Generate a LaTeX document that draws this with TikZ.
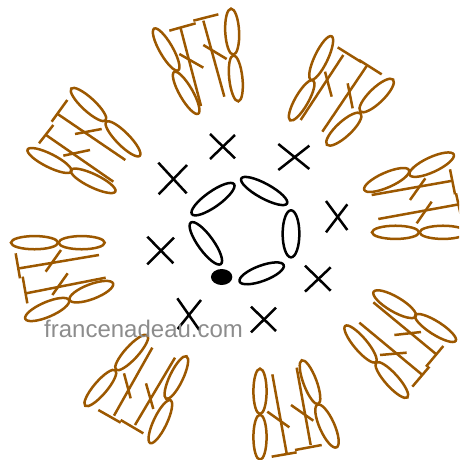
\documentclass[tikz,border=0pt]{standalone}
\usepackage{fontspec}
\setmainfont{Liberation Sans}
\definecolor{stitch}{RGB}{156,88,0}
\definecolor{wm}{RGB}{140,140,140}
\tikzset{
  brownline/.style={draw=stitch,line width=2.5pt},
  blackline/.style={draw=black,line width=2.5pt},
  watermark/.style={text=wm,font=\fontsize{24}{24}\selectfont,anchor=base west,inner sep=0pt}
}
\newcommand{\Orig}[2]{\def\ox{#1}\def\oy{#2}}
\def\wadj{0.3}
% line from zoom coordinates
\newcommand{\Ln}[5][brownline]{%
  \pgfmathsetmacro{\ax}{\ox+#2/3}\pgfmathsetmacro{\ay}{-(\oy+#3/3)}%
  \pgfmathsetmacro{\bx}{\ox+#4/3}\pgfmathsetmacro{\by}{-(\oy+#5/3)}%
  \draw[#1] (\ax,\ay) -- (\bx,\by);}
% ellipse between outer tips, outer width w (zoom coordinates)
\newcommand{\El}[6][brownline]{%
  \pgfmathsetmacro{\ax}{\ox+#2/3}\pgfmathsetmacro{\ay}{-(\oy+#3/3)}%
  \pgfmathsetmacro{\bx}{\ox+#4/3}\pgfmathsetmacro{\by}{-(\oy+#5/3)}%
  \pgfmathsetmacro{\cx}{(\ax+\bx)/2}\pgfmathsetmacro{\cy}{(\ay+\by)/2}%
  \pgfmathsetmacro{\ang}{atan2(\by-\ay,\bx-\ax)}%
  \pgfmathsetmacro{\ra}{veclen(\bx-\ax,\by-\ay)/2-0.3}%
  \pgfmathsetmacro{\rb}{#6/6-\wadj}%
  \draw[#1,shift={(\cx,\cy)},rotate=\ang] (0,0) ellipse [x radius=\ra,y radius=\rb];}
\newcommand{\Xx}[8]{\Ln[blackline]{#1}{#2}{#3}{#4}\Ln[blackline]{#5}{#6}{#7}{#8}}
\begin{document}
\begin{tikzpicture}[x=1pt,y=1pt]
\useasboundingbox (0,0) rectangle (459,-460);
\clip (0,0) rectangle (459,-460);
% centre ring
\Orig{140}{125}
\El[blackline]{155}{268}{283}{177}{48}
\El[blackline]{303}{160}{442}{236}{46}
\El[blackline]{453}{255}{453}{398}{52}
\El[blackline]{298}{470}{432}{420}{48}
\El[blackline]{152}{292}{243}{418}{48}
\pgfmathsetmacro{\px}{140+245/3}\pgfmathsetmacro{\py}{-(125+456/3)}
\fill[black] (\px,\py) ellipse [x radius=10.7,y radius=8];
\Xx{55}{113}{140}{205}{56}{208}{141}{120}
\Xx{210}{27}{285}{100}{210}{102}{285}{30}
\Xx{415}{57}{508}{132}{415}{135}{508}{62}
\Xx{558}{228}{622}{315}{558}{322}{622}{238}
\Xx{495}{422}{572}{497}{495}{500}{572}{427}
\Xx{333}{545}{408}{618}{333}{622}{408}{548}
\Xx{112}{520}{178}{615}{113}{612}{183}{525}
\Xx{22}{335}{100}{415}{22}{418}{102}{338}
\def\wadj{0.9}
% top
\Orig{150}{0}
\El{12}{85}{85}{212}{45}\El{72}{215}{145}{342}{45}
\El{243}{25}{250}{165}{47}\El{250}{165}{265}{305}{45}
\Ln{92}{85}{153}{318}\Ln{58}{92}{137}{70}
\Ln{160}{62}{223}{290}\Ln{130}{62}{205}{43}
\Ln{88}{162}{160}{203}\Ln{160}{135}{230}{177}
% top right
\Orig{280}{30}
\El{155}{18}{92}{150}{45}\El{100}{150}{30}{272}{45}
\El{340}{148}{240}{245}{50}\El{243}{250}{140}{345}{50}
\Ln{190}{75}{62}{270}\Ln{260}{108}{127}{305}
\Ln{173}{52}{245}{97}\Ln{237}{90}{305}{133}
\Ln{135}{125}{155}{200}\Ln{203}{160}{218}{235}
% right
\Orig{350}{145}
\El{42}{135}{178}{75}{50}\El{178}{90}{312}{28}{50}
\El{65}{262}{208}{262}{45}\El{208}{262}{350}{262}{45}
\Ln{65}{150}{303}{108}\Ln{85}{222}{327}{178}
\Ln{300}{73}{315}{148}\Ln{318}{145}{335}{222}
\Ln{226}{100}{180}{165}\Ln{245}{170}{200}{235}
% lower right
\Orig{340}{285}
\El{100}{20}{228}{95}{50}\El{225}{90}{348}{168}{45}
\El{15}{122}{108}{232}{45}\El{108}{232}{203}{338}{45}
\Ln{100}{52}{288}{207}\Ln{58}{113}{245}{268}
\Ln{310}{183}{258}{245}\Ln{268}{245}{217}{305}
\Ln{163}{150}{243}{141}\Ln{120}{210}{200}{203}
% bottom
\Orig{240}{355}
\El{60}{40}{60}{178}{45}\El{60}{178}{60}{315}{45}
\El{185}{15}{235}{148}{45}\El{232}{148}{290}{278}{50}
\Ln{97}{58}{140}{295}\Ln{170}{38}{212}{270}
\Ln{95}{305}{170}{292}\Ln{165}{285}{245}{270}
\Ln{82}{170}{148}{217}\Ln{153}{150}{220}{197}
% lower left
\Orig{75}{325}
\El{218}{30}{122}{135}{45}\El{122}{135}{30}{243}{45}
\El{335}{93}{273}{222}{45}\El{287}{225}{225}{355}{45}
\Ln{232}{68}{117}{272}\Ln{300}{98}{180}{300}
\Ln{70}{255}{137}{293}\Ln{137}{285}{205}{325}
\Ln{147}{145}{167}{220}\Ln{213}{175}{235}{252}
% left
\Orig{0}{225}
\El{32}{53}{175}{53}{45}\El{175}{53}{315}{53}{45}
\El{75}{282}{208}{225}{50}\El{208}{225}{340}{175}{50}
\Ln{297}{90}{58}{130}\Ln{317}{158}{78}{205}
\Ln{47}{85}{60}{160}\Ln{68}{155}{82}{235}
\Ln{183}{75}{137}{140}\Ln{203}{145}{157}{210}
% upper left
\Orig{20}{80}
\El{153}{25}{258}{122}{45}\El{258}{125}{360}{228}{45}
\El{22}{208}{155}{275}{45}\El{152}{270}{287}{335}{45}
\Ln{110}{100}{316}{240}\Ln{78}{165}{280}{305}
\Ln{142}{60}{95}{125}\Ln{100}{135}{57}{190}
\Ln{165}{162}{245}{147}\Ln{130}{227}{210}{210}
% watermark
\node[watermark] (mark) at (44,-337) {francenadeau.com};
\end{tikzpicture}
\end{document}
